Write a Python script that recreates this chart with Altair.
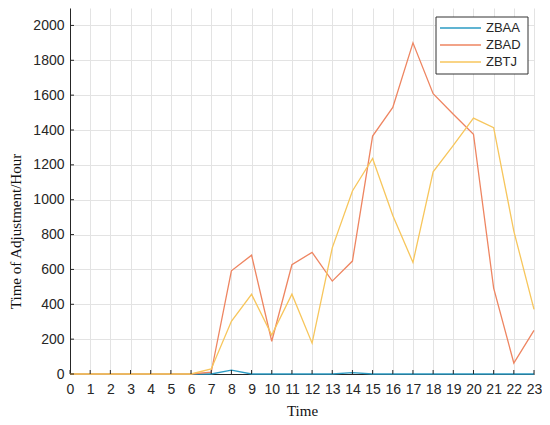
import altair as alt
import pandas as pd

hours = list(range(24))
zbaa = [0, 0, 0, 0, 0, 0, 0, 0, 22, 0, 0, 0, 0, 0, 8, 0, 0, 0, 0, 0, 0, 0, 0, 0]
zbad = [0, 0, 0, 0, 0, 0, 0, 10, 592, 682, 188, 627, 698, 533, 648, 1365, 1530, 1900, 1608, 1490, 1376, 493, 63, 250]
zbtj = [0, 0, 0, 0, 0, 0, 0, 29, 302, 457, 224, 458, 177, 724, 1050, 1237, 910, 640, 1160, 1312, 1468, 1413, 820, 371]

stations = ["ZBAA", "ZBAD", "ZBTJ"]
colors = ["#2B9BC3", "#EE8561", "#F7C65C"]
y_ticks = list(range(0, 2001, 200))

W, H = 464, 366

rows = []
for name, vals in zip(stations, [zbaa, zbad, zbtj]):
    for h, v in zip(hours, vals):
        rows.append({"Time": h, "value": v, "station": name})
df = pd.DataFrame(rows)

color = alt.Color("station:N", scale=alt.Scale(domain=stations, range=colors), legend=None)
yscale = alt.Scale(domain=[0, 2100], nice=False)
xscale = alt.Scale(domain=[0, 23], nice=False)
xaxis = alt.Axis(values=hours, format="d", labelPadding=8, titleY=41, titleBaseline="alphabetic",
                 labelOverlap=False, labelFlush=False, labelBound=False)

lines = alt.Chart(df).mark_line(strokeWidth=1.3).encode(
    x=alt.X("Time:Q", scale=xscale, title="Time", axis=xaxis),
    y=alt.Y("value:Q", scale=yscale, title="Time of Adjustment/Hour",
            axis=alt.Axis(values=y_ticks, format="d", labelPadding=6, labelOverlap=False,
                          labelFlush=False, titleX=-47, titleY=223)),
    color=color,
    order=alt.Order("Time:Q"),
)

xt = alt.Chart(pd.DataFrame({"Time": hours})).mark_rule(color="#262626", strokeWidth=1).encode(
    x=alt.X("Time:Q", scale=xscale, title="Time", axis=xaxis),
    y=alt.value(H), y2=alt.value(H - 4),
)
yt = alt.Chart(pd.DataFrame({"value": y_ticks})).mark_rule(color="#262626", strokeWidth=1).encode(
    y=alt.Y("value:Q", scale=yscale, axis=None),
    x=alt.value(0), x2=alt.value(4),
)

box = alt.Chart(pd.DataFrame({"a": [0]})).mark_rect(fill="white", stroke="#333333", strokeWidth=1).encode(
    x=alt.value(366), x2=alt.value(458), y=alt.value(9), y2=alt.value(66),
)
leg_df = pd.DataFrame({"station": stations, "idx": [0, 1, 2]})
lscale = alt.Scale(domain=[0, 2], range=[20, 54])
leg_lines = alt.Chart(leg_df).mark_rule(strokeWidth=1.5).encode(
    y=alt.Y("idx:Q", scale=lscale, axis=None),
    x=alt.value(370), x2=alt.value(411),
    color=color,
)
leg_text = alt.Chart(leg_df).mark_text(align="left", baseline="middle", font="Liberation Sans",
                                       fontSize=13, color="#262626").encode(
    y=alt.Y("idx:Q", scale=lscale, axis=None),
    x=alt.value(416),
    text="station:N",
)

chart = alt.layer(lines, xt, yt, box, leg_lines, leg_text).resolve_scale(y="independent").properties(
    width=W, height=H,
    autosize=alt.AutoSizeParams(type="none"),
    padding={"left": 62, "top": 0, "right": 8, "bottom": 43},
).configure_view(stroke=None).configure_axis(
    grid=True, gridColor="#e3e3e3", gridWidth=1,
    domainColor="#262626", domainWidth=1, ticks=False,
    labelFont="Liberation Sans", labelFontSize=14, labelColor="#262626",
    titleFont="Liberation Serif", titleFontSize=15, titleFontWeight="normal", titleColor="#111111",
)

chart.save("out.html", embed_options={"renderer": "svg", "actions": False})
